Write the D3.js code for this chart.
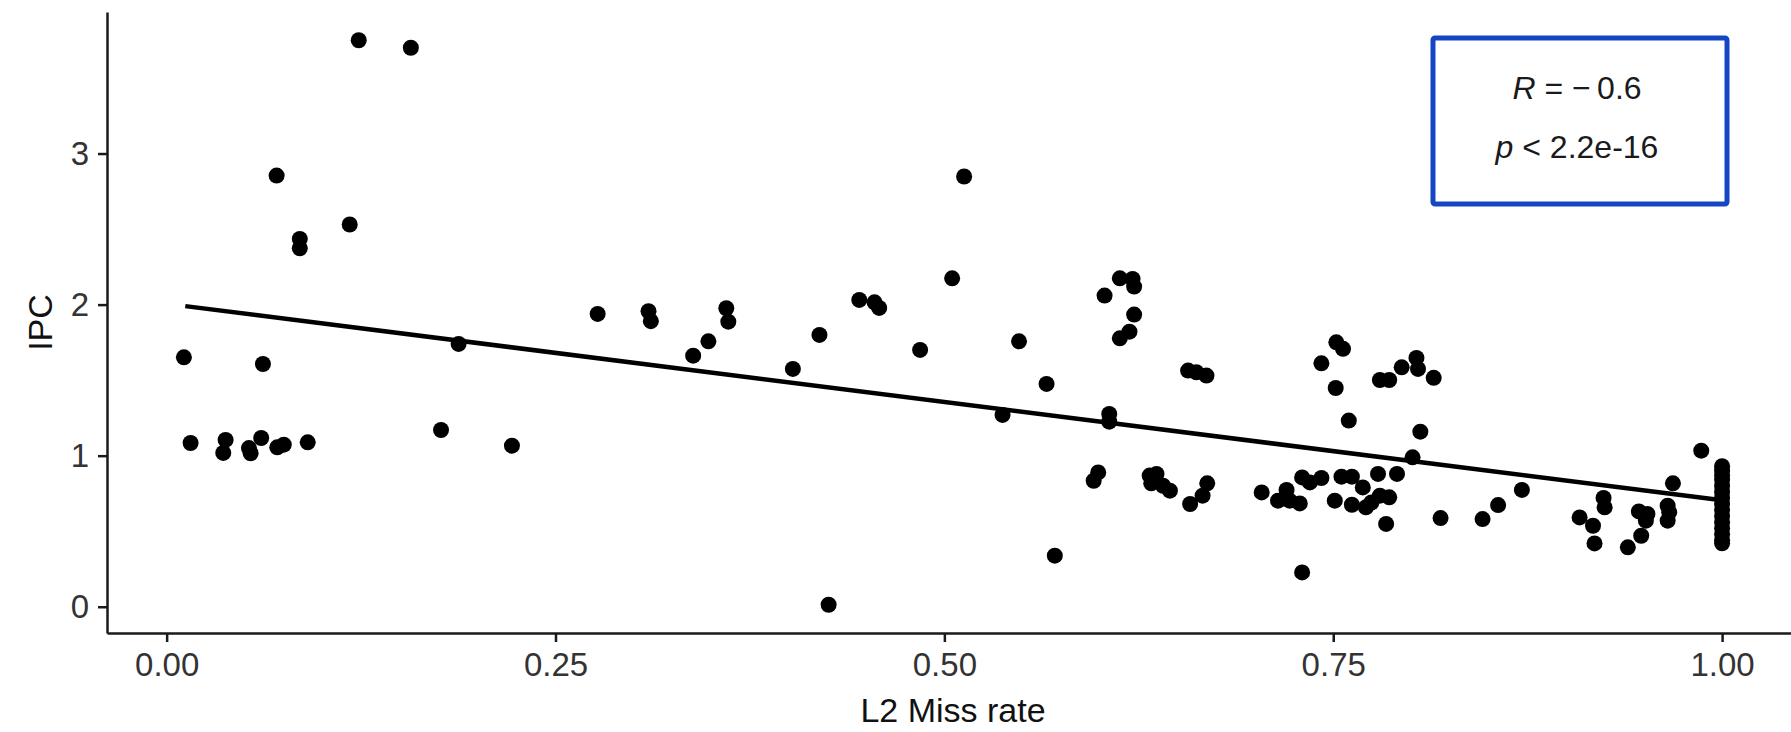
<!DOCTYPE html>
<html>
<head>
<meta charset="utf-8">
<script src="https://cdn.jsdelivr.net/npm/d3@7"></script>
<style>
  body { margin: 0; background: #fff; }
  svg { display: block; font-family: "Liberation Sans", Arial, Helvetica, sans-serif; }
  .axis path, .axis line { stroke: #1a1a1a; stroke-width: 2.5px; }
  .axis text { font-size: 33px; }
  .title { fill: #111; font-size: 34px; }
</style>
</head>
<body>
<div class="chart"></div>
<script>

////////// DATA //////////

// L2 miss rate (x) and IPC (y), one entry per point
const missRate = [
  0.1235, 0.157, 0.0707, 0.0856, 0.0856, 0.1177, 0.0111, 0.0619, 0.1877,
  0.0154, 0.0379, 0.0364, 0.0529, 0.054, 0.0608, 0.0711, 0.0753, 0.0907, 0.1764, 0.222,
  0.2771, 0.3098, 0.3113, 0.3598, 0.3611, 0.3483, 0.3385, 0.4197, 0.4026,
  0.4453, 0.4551, 0.4581, 0.4844, 0.4256,
  0.5127, 0.505, 0.548, 0.5657, 0.5374, 0.606, 0.606, 0.603, 0.6128, 0.621, 0.622,
  0.622, 0.619, 0.6128, 0.6567, 0.662, 0.6685, 0.752, 0.7563, 0.7424, 0.7516, 0.760,
  0.571, 0.5989, 0.596, 0.632, 0.6364, 0.633, 0.6406, 0.645, 0.669, 0.666, 0.658,
  0.704, 0.730, 0.72, 0.7145, 0.722, 0.7285, 0.730, 0.735, 0.7424, 0.7553, 0.762, 0.751, 0.762,
  0.780, 0.786, 0.794, 0.8035, 0.8045, 0.8146, 0.806, 0.801, 0.9866,
  0.7788, 0.791, 0.769, 0.771, 0.780, 0.786, 0.7745, 0.784, 0.819, 0.846, 0.856, 0.8713,
  0.9084, 0.917, 0.918, 0.9238, 0.9245, 0.9394, 0.9465, 0.952, 0.951, 0.948,
  0.9684, 0.965, 0.966, 0.965,
  1.0, 1.0, 1.0, 1.0, 1.0, 1.0, 1.0, 1.0, 1.0, 1.0, 1.0, 1.0, 1.0, 1.0, 1.0
];

const ipc = [
  3.75, 3.70, 2.854, 2.435, 2.373, 2.53, 1.651, 1.607, 1.74,
  1.084, 1.104, 1.018, 1.05, 1.016, 1.117, 1.055, 1.073, 1.088, 1.17, 1.066,
  1.938, 1.956, 1.89, 1.976, 1.887, 1.757, 1.662, 1.799, 1.574,
  2.031, 2.015, 1.978, 1.70, 0.013,
  2.848, 2.174, 1.757, 1.475, 1.27, 1.276, 1.225, 2.06, 2.174, 2.17, 2.119,
  1.934, 1.821, 1.777, 1.563, 1.552, 1.53, 1.75, 1.707, 1.611, 1.448, 1.232,
  0.338, 0.889, 0.834, 0.868, 0.879, 0.817, 0.801, 0.768, 0.817, 0.735, 0.68,
  0.757, 0.227, 0.773, 0.702, 0.702, 0.684, 0.856, 0.823, 0.852, 0.861, 0.861, 0.702, 0.675,
  1.501, 1.501, 1.585, 1.647, 1.574, 1.515, 1.159, 0.989, 1.033,
  0.879, 0.879, 0.79, 0.658, 0.735, 0.724, 0.69, 0.548, 0.587, 0.58, 0.673, 0.773,
  0.591, 0.536, 0.419, 0.72, 0.658, 0.393, 0.631, 0.614, 0.57, 0.47,
  0.817, 0.669, 0.625, 0.57,
  0.93, 0.90, 0.87, 0.84, 0.80, 0.76, 0.72, 0.68, 0.64, 0.60, 0.56, 0.52, 0.48, 0.44, 0.42
];

// fitted regression line, end points
const fitX = [0.012, 1.0];
const fitY = [1.99, 0.705];

const xTicks = [0, 0.25, 0.5, 0.75, 1];
const xTickLabels = ["0.00", "0.25", "0.50", "0.75", "1.00"];
const yTicks = [0, 1, 2, 3];

const xTitle = "L2 Miss rate";
const yTitle = "IPC";
const statR = "\u2212\u20090.6";
const statP = "2.2e-16";


////////// SETUP //////////

let totalWidth = 1791, totalHeight = 732;
let margin = { top: 12, left: 107 };
let width = 1692, height = 621;

let points = missRate.map((d, i) => ({ x: d, y: ipc[i] }));

// ggplot style 5% expansion on both scales
let xExt = d3.extent(missRate), yExt = d3.extent(ipc);
let xPad = (xExt[1] - xExt[0]) * 0.05, yPad = (yExt[1] - yExt[0]) * 0.05;

let x = d3.scaleLinear()
    .domain([xExt[0] - xPad, xExt[1] + xPad])
    .range([0, width]);

let y = d3.scaleLinear()
    .domain([yExt[0] - yPad, yExt[1] + yPad])
    .range([height, 0]);

let svg = d3.select(".chart")
  .append("svg")
    .attr("width", totalWidth)
    .attr("height", totalHeight);

let g = svg.append("g")
    .attr("transform", "translate(" + margin.left + "," + margin.top + ")");


////////// AXES //////////

g.append("g")
    .attr("class", "axis x-axis")
    .attr("transform", "translate(0," + height + ")")
    .call(d3.axisBottom(x)
      .tickValues(xTicks)
      .tickFormat((d, i) => xTickLabels[i])
      .tickSize(9)
      .tickSizeOuter(0)
      .tickPadding(11));

g.append("g")
    .attr("class", "axis y-axis")
    .call(d3.axisLeft(y)
      .tickValues(yTicks)
      .tickFormat(d3.format("d"))
      .tickSize(9)
      .tickSizeOuter(0)
      .tickPadding(9));

g.selectAll(".axis text").attr("fill", "#333");

svg.append("text")
    .attr("class", "title")
    .attr("x", margin.left + width / 2)
    .attr("y", 722)
    .attr("text-anchor", "middle")
    .text(xTitle);

svg.append("text")
    .attr("class", "title")
    .attr("transform", "translate(52," + (margin.top + height / 2) + ") rotate(-90)")
    .attr("text-anchor", "middle")
    .text(yTitle);


////////// POINTS + FIT //////////

g.append("g")
  .selectAll("circle")
    .data(points)
    .enter()
    .append("circle")
    .attr("cx", d => x(d.x))
    .attr("cy", d => y(d.y))
    .attr("r", 8)
    .attr("fill", "#000");

let line = d3.line()
    .x(d => x(d[0]))
    .y(d => y(d[1]));

g.append("path")
    .datum(fitX.map((d, i) => [d, fitY[i]]))
    .attr("d", line)
    .attr("fill", "none")
    .attr("stroke", "#000")
    .attr("stroke-width", 4.5);


////////// STAT BOX //////////

let box = svg.append("g")
    .attr("transform", "translate(1433,38)");

box.append("rect")
    .attr("width", 294)
    .attr("height", 166)
    .attr("fill", "none")
    .attr("stroke", "#1446c4")
    .attr("stroke-width", 5)
    .attr("rx", 2);

let r = box.append("text")
    .attr("x", 144)
    .attr("y", 61)
    .attr("text-anchor", "middle")
    .style("font-size", "32px")
    .attr("fill", "#1a1a1a");
r.append("tspan").style("font-style", "italic").text("R");
r.append("tspan").text(" = " + statR);

let p = box.append("text")
    .attr("x", 144)
    .attr("y", 120)
    .attr("text-anchor", "middle")
    .style("font-size", "32px")
    .attr("fill", "#1a1a1a");
p.append("tspan").style("font-style", "italic").text("p");
p.append("tspan").text(" < " + statP);

</script>
</body>
</html>
